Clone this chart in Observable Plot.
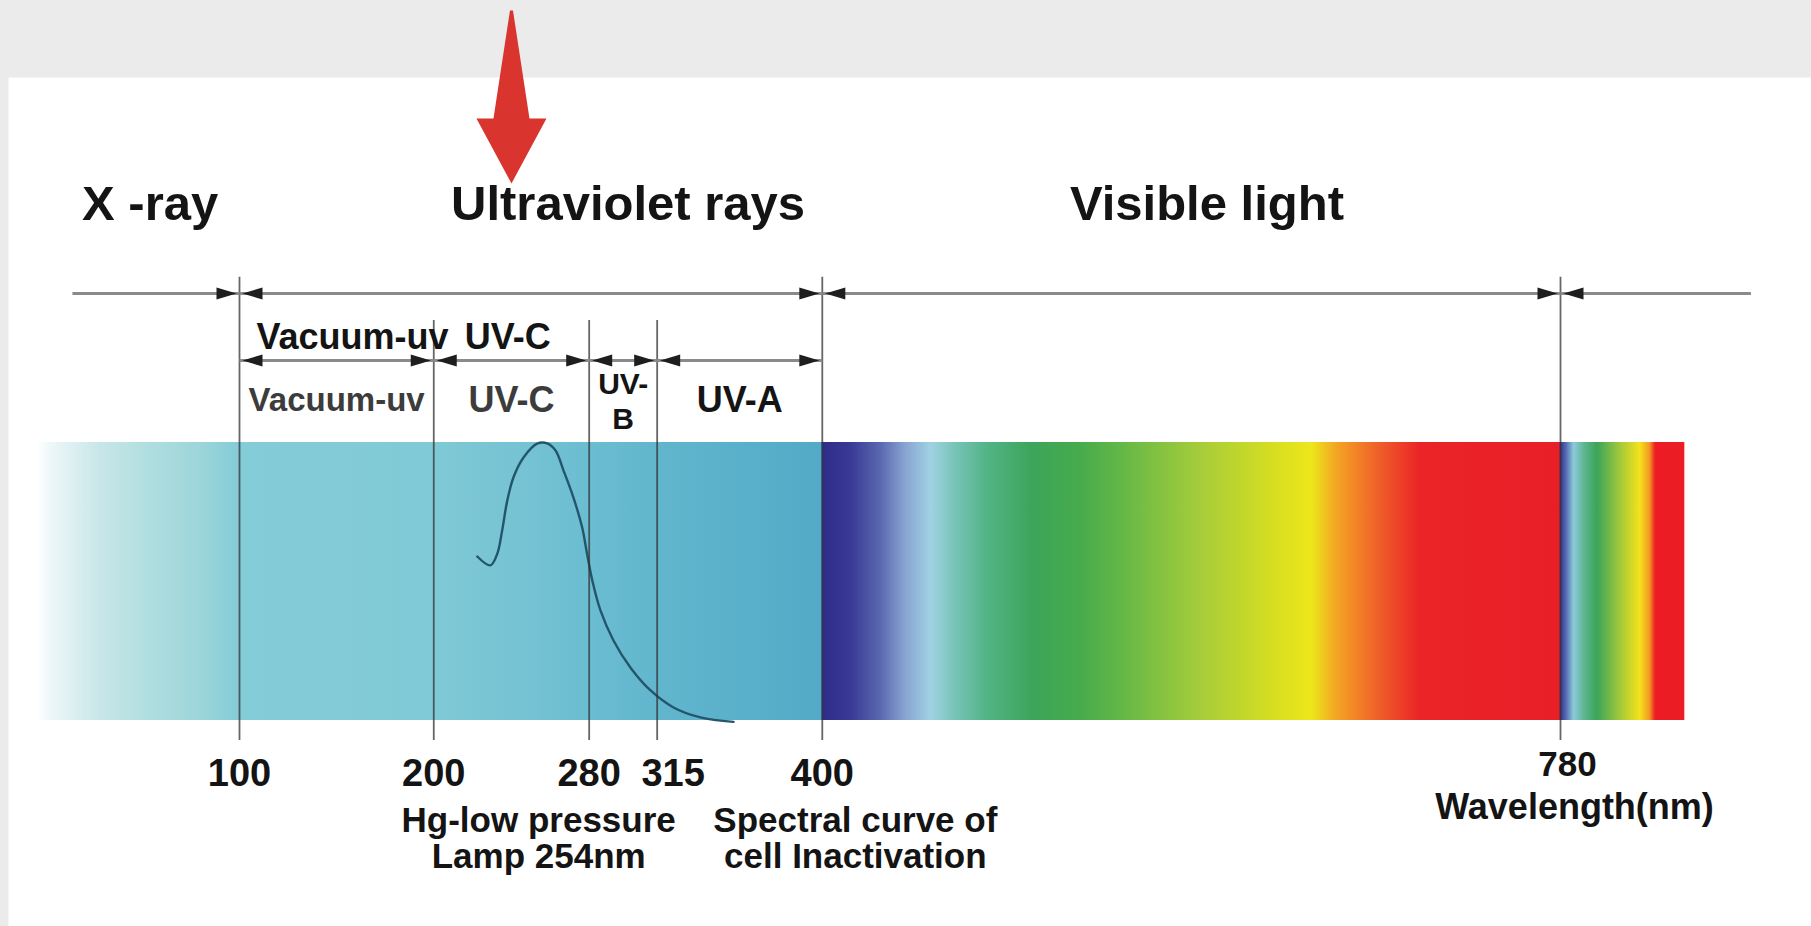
<!DOCTYPE html>
<html>
<head>
<meta charset="utf-8">
<script src="https://cdn.jsdelivr.net/npm/d3@7"></script>
<script src="https://cdn.jsdelivr.net/npm/@observablehq/plot@0.6"></script>
<style>
  html, body { margin: 0; padding: 0; background: #ebebeb; overflow: hidden; }
  svg { display: block; }
</style>
</head>
<body>
<div id="chart"></div>
<script>
// ---------------- DATA ----------------
// Band boundaries on the wavelength axis (nm) and their tick labels
const boundaryNm = [100, 200, 280, 315, 400, 780];
const tickLabels = ["100", "200", "280", "315", "400", "780"];
const majorBoundaryNm = [100, 400, 780];

// Broad regions of the spectrum
const regionNames = ["X -ray", "Ultraviolet rays", "Visible light"];
const regionLabelNm = [54, 300, 598];

// Dimension lines
const topDimensionNm = [14, 100, 400, 780, 878];   // X-ray | UV | visible | beyond
const uvDimensionNm = [100, 200, 280, 315, 400];   // UV sub-bands
const uvUpperLabels = ["Vacuum-uv", "UV-C"];
const uvBandNames = ["Vacuum-uv", "UV-C", "UV-\nB", "UV-A"];

// Notes under the axis
const noteNm = [254, 417];
const noteText = ["Hg-low pressure\nLamp 254nm", "Spectral curve of\ncell Inactivation"];
const axisTitle = "Wavelength(nm)";

// Red pointer arrow position (nm)
const arrowNm = [240];

// Spectral curve of cell inactivation (relative, 0 = bar bottom, 1 = bar top)
const curveNm  = [222.4, 229.2, 232.7, 235.2, 237.8, 241.0, 246.2, 253.2, 258.4, 262.7, 266.8,
                  271.9, 276.4, 278.9, 281.6, 285.8, 292.5, 301.3, 311.6, 323.4, 337.3, 354.3];
const curveRel = [0.59, 0.558, 0.60, 0.683, 0.79, 0.874, 0.946, 0.996, 0.997, 0.971, 0.899,
                  0.802, 0.694, 0.60, 0.504, 0.396, 0.288, 0.19, 0.108, 0.047, 0.011, -0.005];

// Colour bar extent and colour stops (nm)
const barExtentNm = [-4, 844];
const spectrumStopNm = [-4, 3, 28, 54, 80, 100, 150, 200, 250, 280, 315, 360, 399.5,
  400.5, 415, 430, 443, 456, 469, 485, 508, 533, 553, 595, 631, 652, 665, 686, 708, 779.5,
  780.5, 783, 787, 793, 799, 811, 821, 826, 829, 844];
const spectrumStopColor = ["#ffffff", "#eef7f8", "#c8e6e9", "#b0dedf", "#9cd5da", "#84ccd7",
  "#82cbd7", "#80c9d6", "#74c2d3", "#6bbdd1", "#61b6cd", "#59b0ca", "#52aac7",
  "#2f2c89", "#393a95", "#5a67b0", "#88a5d1", "#a0d2e4", "#76c3b6", "#52b486", "#3ca55a",
  "#47ab4c", "#62b747", "#a6cd3a", "#d5dd22", "#ece71a", "#f4a424", "#ef6129", "#ea2427",
  "#e91f28", "#3b3a96", "#5669b2", "#8ccadb", "#5ab48a", "#3ba55a", "#a3c93a", "#f4e21a",
  "#f39a23", "#ec1c24", "#ec1c24"];

// ---------------- LAYOUT (y in bar units: 0 = bar bottom, 1 = bar top) ----------------
const Y = {
  title: 1.80, dim1: 1.536, dim2: 1.295, upper: 1.338, lower: 1.151,
  majorTop: 1.594, minorTop: 1.439, ruleBottom: -0.072,
  tick: -0.237, tick780: -0.201, axisTitle: -0.356, note: -0.532, arrowTop: 2.554
};
const FONT = "'Liberation Sans', Arial, Helvetica, sans-serif";

// derived tables
const curve = curveNm.map((nm, i) => ({nm, rel: curveRel[i]}));
const segs = (arr, y) => arr.slice(1).map((b, i) => ({a: arr[i], b, y}));
const topSegs = segs(topDimensionNm, Y.dim1);
const uvSegs = segs(uvDimensionNm, Y.dim2);
const headsRight = [
  ...topSegs.slice(0, -1).map(s => ({nm: s.b, y: s.y})),
  ...uvSegs.map(s => ({nm: s.b, y: s.y}))
];
const headsLeft = [
  ...topSegs.slice(1).map(s => ({nm: s.a, y: s.y})),
  ...uvSegs.map(s => ({nm: s.a, y: s.y}))
];
const bands = uvBandNames.map((name, i) => ({name, mid: (uvDimensionNm[i] + uvDimensionNm[i + 1]) / 2}));
const upper = uvUpperLabels.map((name, i) => ({name, start: uvDimensionNm[i]}));
const ticks = boundaryNm.map((nm, i) => ({nm, label: tickLabels[i]}));

const triangleHead = {
  draw(ctx, l, r) { ctx.moveTo(0, -l); ctx.lineTo(r, 0); ctx.lineTo(-r, 0); ctx.closePath(); }
};
const bigArrow = {
  draw(ctx, l) {
    const hb = l * 0.624;
    ctx.moveTo(-1.5, 0); ctx.lineTo(1.5, 0); ctx.lineTo(18, -hb); ctx.lineTo(35, -hb);
    ctx.lineTo(0, -l); ctx.lineTo(-35, -hb); ctx.lineTo(-18, -hb); ctx.closePath();
  }
};

const textBase = {fontFamily: FONT, fontWeight: "bold", lineAnchor: "bottom"};
const bandBase = {fontFamily: FONT, fontWeight: "bold", x: "mid", y: Y.lower, text: "name", lineAnchor: "middle"};

const svg = Plot.plot({
  width: 1811,
  height: 926,
  marginLeft: 8, marginTop: 77, marginRight: 0, marginBottom: 0,
  style: {background: "#ebebeb", overflow: "hidden"},
  x: {domain: [100, 780], range: [239, 1560], axis: null},
  y: {domain: [0, 1], range: [720, 442], axis: null},
  marks: [
    Plot.frame({fill: "white", stroke: "none"}),
    // colour bar
    Plot.rect([barExtentNm], {x1: d => d[0], x2: d => d[1], y1: 0, y2: 1, fill: "url(#spectrumGradient)"}),
    // inactivation curve
    Plot.line(curve, {x: "nm", y: "rel", curve: "catmull-rom", stroke: "#24566b", strokeWidth: 2.4}),
    // boundary lines
    Plot.ruleX(boundaryNm, {
      x: d => d, y1: Y.ruleBottom,
      y2: d => majorBoundaryNm.includes(d) ? Y.majorTop : Y.minorTop,
      stroke: "#333", strokeOpacity: 0.75, strokeWidth: 1.8
    }),
    // dimension lines
    Plot.link([...topSegs, ...uvSegs], {x1: "a", x2: "b", y1: "y", y2: "y", stroke: "#8a8a8a", strokeWidth: 3}),
    Plot.vector(headsRight, {x: "nm", y: "y", rotate: 90, length: 20, r: 6, anchor: "end",
      shape: triangleHead, fill: "#1e1e1e", stroke: "none", dx: -3}),
    Plot.vector(headsLeft, {x: "nm", y: "y", rotate: -90, length: 20, r: 6, anchor: "end",
      shape: triangleHead, fill: "#1e1e1e", stroke: "none", dx: 3}),
    // red pointer
    Plot.vector(arrowNm, {x: d => d, y: Y.arrowTop, rotate: 180, length: 173, anchor: "start",
      shape: bigArrow, fill: "#d9342e", stroke: "none"}),
    // region titles
    Plot.text(regionNames, {...textBase, x: (d, i) => regionLabelNm[i], y: Y.title, text: d => d,
      fontSize: 49, fill: "#141414"}),
    // UV labels above the sub-band dimension line
    Plot.text(upper.slice(0, 1), {...textBase, x: "start", y: Y.upper, text: "name",
      textAnchor: "start", dx: 17, fontSize: 36, fill: "#141414"}),
    Plot.text(upper.slice(1), {...textBase, x: "start", y: Y.upper, text: "name",
      textAnchor: "start", dx: 31, fontSize: 36, fill: "#141414"}),
    // UV sub-band names
    Plot.text(bands.filter(b => b.name === "Vacuum-uv"), {...bandBase, fontSize: 33, fill: "#3c3c3c"}),
    Plot.text(bands.filter(b => b.name === "UV-C"), {...bandBase, fontSize: 36, fill: "#3c3c3c"}),
    Plot.text(bands.filter(b => b.name === "UV-\nB"), {...bandBase, lineHeight: 1.14, fontSize: 30, fill: "#141414"}),
    Plot.text(bands.filter(b => b.name === "UV-A"), {...bandBase, fontSize: 36, fill: "#141414"}),
    // tick labels
    Plot.text(ticks.filter(t => t.nm !== 315 && t.nm !== 780), {...textBase, x: "nm", y: Y.tick, text: "label",
      fontSize: 38, fill: "#141414"}),
    Plot.text(ticks.filter(t => t.nm === 315), {...textBase, x: "nm", y: Y.tick, text: "label",
      fontSize: 38, fill: "#141414", dx: 16}),
    Plot.text(ticks.filter(t => t.nm === 780), {...textBase, x: "nm", y: Y.tick780, text: "label",
      fontSize: 35, fill: "#141414", dx: 7}),
    Plot.text([axisTitle], {...textBase, x: 780, y: Y.axisTitle, text: d => d,
      fontSize: 36, fill: "#141414", dx: 14}),
    // notes
    Plot.text(noteText, {...textBase, x: (d, i) => noteNm[i], y: Y.note, text: d => d,
      lineHeight: 1.03, fontSize: 35, fill: "#141414"})
  ]
});

// gradient for the colour bar built from the colour stops
const NS = "http://www.w3.org/2000/svg";
const defs = document.createElementNS(NS, "defs");
const grad = document.createElementNS(NS, "linearGradient");
grad.setAttribute("id", "spectrumGradient");
grad.setAttribute("x1", "0"); grad.setAttribute("x2", "1");
grad.setAttribute("y1", "0"); grad.setAttribute("y2", "0");
const [w0, w1] = barExtentNm;
spectrumStopNm.forEach((nm, i) => {
  const s = document.createElementNS(NS, "stop");
  s.setAttribute("offset", ((nm - w0) / (w1 - w0)).toFixed(5));
  s.setAttribute("stop-color", spectrumStopColor[i]);
  grad.appendChild(s);
});
defs.appendChild(grad);
svg.insertBefore(defs, svg.firstChild);

document.getElementById("chart").appendChild(svg);
</script>
</body>
</html>
